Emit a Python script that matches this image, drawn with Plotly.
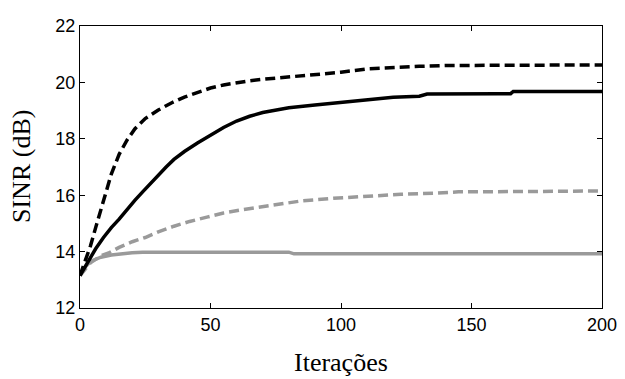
import plotly.graph_objects as go

# Black dashed series
x_bd = [0, 2, 4, 6, 8, 10, 12, 15, 18, 21, 25, 30, 35, 40, 45, 50, 55, 60, 65, 70, 75, 80, 90, 100, 110, 120, 130, 140, 150, 160, 170, 180, 190, 200]
y_bd = [13.15, 13.65, 14.2, 14.85, 15.5, 16.1, 16.75, 17.45, 17.95, 18.35, 18.72, 19.02, 19.27, 19.48, 19.65, 19.8, 19.91, 20.0, 20.06, 20.11, 20.15, 20.2, 20.26, 20.36, 20.48, 20.54, 20.57, 20.6, 20.6, 20.6, 20.62, 20.62, 20.62, 20.62]

# Black solid series
x_bs = [0, 3, 6, 9, 12, 15, 18, 21, 24, 27, 30, 33, 36, 40, 45, 50, 55, 60, 65, 70, 75, 80, 90, 100, 110, 120, 130, 133, 160, 165, 166, 200]
y_bs = [13.15, 13.65, 14.1, 14.5, 14.85, 15.15, 15.5, 15.82, 16.12, 16.42, 16.72, 17.0, 17.27, 17.55, 17.85, 18.12, 18.4, 18.63, 18.8, 18.93, 19.02, 19.1, 19.2, 19.3, 19.4, 19.47, 19.51, 19.59, 19.6, 19.6, 19.68, 19.68]

# Gray dashed series
x_gd = [0, 4, 8, 11, 15, 20, 25, 30, 36, 42, 49, 55, 62, 68, 74, 85, 97, 110, 123, 136, 145, 170, 200]
y_gd = [13.15, 13.6, 13.85, 13.95, 14.15, 14.35, 14.5, 14.7, 14.9, 15.07, 15.23, 15.37, 15.48, 15.57, 15.65, 15.8, 15.89, 15.97, 16.03, 16.07, 16.12, 16.13, 16.15]

# Gray solid series
x_gs = [0, 2, 4, 8, 12, 16, 20, 24, 80, 82, 200]
y_gs = [13.15, 13.45, 13.65, 13.8, 13.88, 13.93, 13.96, 13.98, 13.98, 13.92, 13.92]

x_ticks = [0, 50, 100, 150, 200]
y_ticks = [12, 14, 16, 18, 20, 22]

GRAY = "#9a9a9a"
fig = go.Figure()
fig.add_trace(go.Scatter(x=x_gs, y=y_gs, mode="lines", line=dict(color=GRAY, width=3.5)))
fig.add_trace(go.Scatter(x=x_gd, y=y_gd, mode="lines", line=dict(color=GRAY, width=3.5, dash="10px,5px")))
fig.add_trace(go.Scatter(x=x_bs, y=y_bs, mode="lines", line=dict(color="black", width=3.5)))
fig.add_trace(go.Scatter(x=x_bd, y=y_bd, mode="lines", line=dict(color="black", width=3.5, dash="10px,5px")))

axis_common = dict(showgrid=False, zeroline=False, showline=True, linecolor="black", linewidth=1,
                   mirror="ticks", ticks="inside", ticklen=5, tickcolor="black",
                   ticklabeloverflow="allow",
                   tickfont=dict(family="Liberation Sans", size=18, color="black"))
fig.update_layout(
    width=617, height=371,
    margin=dict(l=72, r=20, t=8, b=71),
    paper_bgcolor="white", plot_bgcolor="white",
    showlegend=False,
    xaxis=dict(range=[0, 200], tickvals=x_ticks, **axis_common),
    yaxis=dict(range=[12, 22], tickvals=y_ticks, **axis_common),
    annotations=[
        dict(text="Iterações", xref="paper", yref="paper", x=0.5, y=0, yshift=-54,
             xanchor="center", yanchor="middle", showarrow=False,
             font=dict(family="Liberation Serif", size=26, color="black")),
        dict(text="SINR (dB)", xref="paper", yref="paper", x=0, y=0.5, xshift=-59,
             xanchor="center", yanchor="middle", showarrow=False, textangle=-90,
             font=dict(family="Liberation Serif", size=26, color="black")),
    ],
)
fig.write_html("out.html", config={"displayModeBar": False})
